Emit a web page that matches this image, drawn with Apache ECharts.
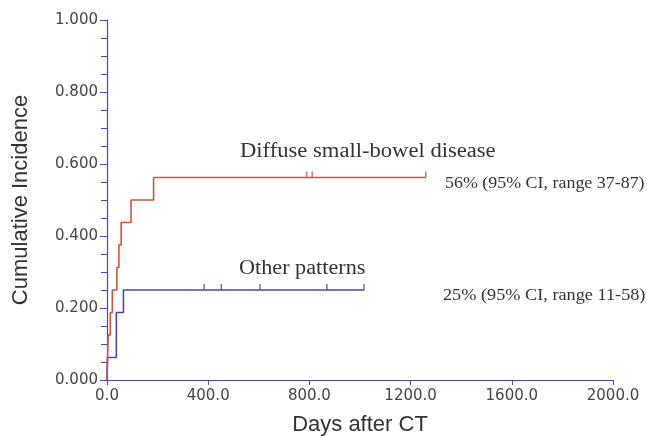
<!DOCTYPE html>
<html>
<head>
<meta charset="utf-8">
<script src="https://cdn.jsdelivr.net/npm/echarts@6/dist/echarts.min.js"></script>
<style>
  html, body { margin: 0; padding: 0; background: #fff; }
  #chart { width: 647px; height: 436px; }
</style>
</head>
<body>
<div id="chart"></div>
<script>
// event times (days) and cumulative incidence after each event
const diffuseDays = [0, 2, 5, 13, 21, 39, 47, 56, 95, 184, 1260]
const diffuseInc = [0, 0.0625, 0.125, 0.1875, 0.25, 0.3125, 0.375, 0.4375, 0.5, 0.5625, 0.5625]
const diffuseCensored = [789, 811, 1260]

const otherDays = [0, 2, 37, 65, 1016]
const otherInc = [0, 0.0625, 0.1875, 0.25, 0.25]
const otherCensored = [384, 452, 605, 869, 1016]

const xTicks = [0, 400, 800, 1200, 1600, 2000]
const yTicks = [0, 0.2, 0.4, 0.6, 0.8, 1.0]

const redColor = '#c4593b'
const blueColor = '#4a47a8'
const axisColor = '#4a47a8'

function pairs(xs, ys) {
  return xs.map((x, i) => [x, ys[i]])
}
// censor marks sit on the curve level at that time
function censorPoints(times, xs, ys) {
  return times.map(t => {
    let v = 0
    for (let i = 0; i < xs.length; i++) {
      if (xs[i] <= t) v = ys[i]
    }
    return [t, v]
  })
}

const chart = echarts.init(document.getElementById('chart'))
const serif = '"Liberation Serif", "Times New Roman", serif'
const sans = '"Liberation Sans", Arial, sans-serif'
const tickFont = '"DejaVu Sans", sans-serif'

chart.setOption({
  animation: false,
  backgroundColor: '#fff',
  grid: { left: 107, right: 34, top: 20, bottom: 56, outerBoundsMode: 'none', containLabel: false },
  xAxis: {
    type: 'value',
    min: xTicks[0],
    max: xTicks[xTicks.length - 1],
    interval: 400,
    name: 'Days after CT',
    nameLocation: 'middle',
    nameGap: 34,
    nameTextStyle: { fontFamily: sans, fontSize: 22, color: '#333' },
    axisLine: { show: true, onZero: false, lineStyle: { color: axisColor, width: 1.2 } },
    axisTick: { show: true, length: 5, lineStyle: { color: axisColor } },
    axisLabel: {
      fontFamily: tickFont, fontSize: 15, color: '#444', margin: 9,
      formatter: v => v.toFixed(1)
    },
    splitLine: { show: false }
  },
  yAxis: {
    type: 'value',
    min: yTicks[0],
    max: yTicks[yTicks.length - 1],
    interval: 0.2,
    name: 'Cumulative Incidence',
    nameLocation: 'middle',
    nameGap: 75,
    nameTextStyle: { fontFamily: sans, fontSize: 22, color: '#333' },
    axisLine: { show: true, onZero: false, lineStyle: { color: axisColor, width: 1.2 } },
    axisTick: { show: true, length: 7, lineStyle: { color: axisColor } },
    minorTick: { show: true, splitNumber: 4, length: 6, lineStyle: { color: axisColor } },
    axisLabel: {
      fontFamily: tickFont, fontSize: 15, color: '#444', margin: 9,
      formatter: v => v.toFixed(3)
    },
    splitLine: { show: false }
  },
  graphic: [
    { type: 'text', x: 240, y: 142, scaleX: 1.13, style: { text: 'Diffuse small-bowel disease', font: '20px ' + serif, fill: '#333' } },
    { type: 'text', x: 239, y: 259, scaleX: 1.11, style: { text: 'Other patterns', font: '20px ' + serif, fill: '#333' } },
    { type: 'text', x: 445, y: 176, scaleX: 1.12, style: { text: '56% (95% CI, range 37-87)', font: '16px ' + serif, fill: '#333' } },
    { type: 'text', x: 443, y: 288, scaleX: 1.14, style: { text: '25% (95% CI, range 11-58)', font: '16px ' + serif, fill: '#333' } }
  ],
  series: [
    {
      name: 'Diffuse small-bowel disease',
      type: 'line',
      step: 'end',
      data: pairs(diffuseDays, diffuseInc),
      symbol: 'none',
      lineStyle: { color: redColor, width: 1.6 },
      z: 3
    },
    {
      name: 'Other patterns',
      type: 'line',
      step: 'end',
      data: pairs(otherDays, otherInc),
      symbol: 'none',
      lineStyle: { color: blueColor, width: 1.6 },
      z: 2
    },
    {
      type: 'scatter',
      data: censorPoints(diffuseCensored, diffuseDays, diffuseInc),
      symbol: 'rect',
      symbolSize: [1.5, 6],
      symbolOffset: [0, -3],
      itemStyle: { color: redColor },
      z: 3
    },
    {
      type: 'scatter',
      data: censorPoints(otherCensored, otherDays, otherInc),
      symbol: 'rect',
      symbolSize: [1.5, 6],
      symbolOffset: [0, -3],
      itemStyle: { color: blueColor },
      z: 3
    }
  ]
})
</script>
</body>
</html>
